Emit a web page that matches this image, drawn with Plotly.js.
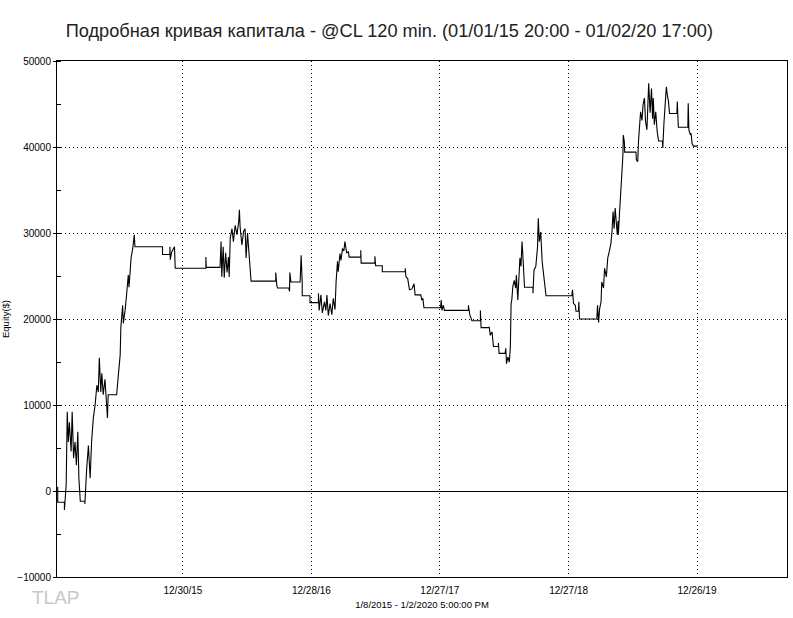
<!DOCTYPE html>
<html>
<head>
<meta charset="utf-8">
<script src="https://cdn.plot.ly/plotly-3.0.1.min.js"></script>
<style>html,body{margin:0;padding:0;background:#fff;}#chart{width:793px;height:618px;}</style>
</head>
<body>
<div id="chart"></div>
<script>
// Start of the equity record (days below are counted from this date)
const startDate = "2015-01-07";

// Days since start
const daysFromStart = [
  2,2,21,21,26,29,32,35,40,43,47,51,55,59,62,66,79,79,84,89,94,98,103,108,113,117,120,124,127,131,136,141,143,145,
  169,174,179,181,186,188,193,198,202,204,210,215,219,221,299,299,320,320,321,325,333,335,422,422,423,462,
  465,467,471,474,478,482,486,488,491,496,500,505,510,515,517,519,524,529,533,536,540,543,547,550,
  620,620,623,625,657,659,660,663,689,692,695,695,717,717,741,741,743,748,752,758,762,765,769,774,779,783,788,
  791,795,797,802,805,809,813,816,821,826,828,861,861,862,901,901,903,
  922,922,987,987,989,994,996,999,1006,1012,1015,1031,1034,1037,1040,1087,1089,1091,1095,1098,
  1166,1166,1170,1176,1200,1200,1202,1225,1225,1228,1233,1237,1251,1251,1253,1270,1272,1274,1278,1282,1285,
  1287,1289,1292,1296,1300,1302,1306,1309,1312,1315,1318,1321,1323,1325,1349,1349,1352,1357,1362,
  1364,1367,1371,1375,1379,1384,1386,1459,1461,1464,1469,1471,1478,1479,1481,1530,1532,1535,1538,1542,
  1544,1549,1552,1557,1561,1565,1570,1573,1576,1579,1582,1585,1588,1590,1591,1594,1597,1600,1602,1604,
  1605,1608,1609,1641,1642,1646,1648,1651,1654,1658,1661,1665,1668,1672,1675,1677,1681,1685,1688,1690,
  1693,1697,1701,1705,1716,1717,1720,1723,1727,1730,1733,1736,1757,1758,1760,1761,1788,1789,1791,1795,
  1797,1800,1804,1815
];

// Equity in $
const equity = [
  500,-1300,-1300,-2200,700,9200,5700,8000,4600,9200,3800,5700,3000,6900,1500,-1200,-1200,-1500,2500,5300,1500,5700,8500,10000,12300,11500,15500,11500,13700,11200,13000,9700,8500,11200,
  11200,13500,15800,19000,21600,19500,21000,23200,25100,23700,27100,28300,29800,28400,28400,27500,27500,28400,26900,27800,28400,25900,25900,27200,26000,26000,
  29000,24900,28400,24800,27700,25400,27200,24900,29400,30500,29000,30900,29800,31300,32700,30700,28600,30200,30500,27100,30000,28300,25500,24400,
  24400,25400,23900,23600,23600,23200,25400,24300,24300,27400,24200,22700,22700,21900,21900,23000,21000,22800,20700,22000,21000,22800,20400,21800,20500,22400,21100,
  24300,26700,25500,27600,26800,28200,27900,29000,27700,27800,27200,27200,28000,26500,26500,27300,26200,
  26200,25500,25500,25900,24900,24700,24300,23400,23500,24100,22800,22800,22200,22400,21300,21300,22200,21000,21600,21000,
  21000,21600,20500,19800,19800,21000,19000,19000,19100,18100,18500,16800,16800,17200,16000,16000,16600,14800,15600,15000,16800,
  21800,22200,23800,24500,23600,25100,22200,25300,27100,26100,29000,26900,24000,23700,23700,23000,25700,26100,28400,
  31700,29000,30100,26700,25100,23600,22700,22700,23400,21800,21600,20900,20900,22000,20000,20000,21600,19600,21200,22000,
  24300,23600,25900,24900,27100,27800,28800,30200,32500,30500,32900,31300,29800,31400,29800,32100,34000,36000,36700,39100,
  41400,40600,39400,39400,38500,38300,40600,42200,44100,43100,44900,45700,43000,42000,45700,47400,44000,46800,43300,45700,
  42600,44100,41800,40700,40700,39900,42600,44900,47000,46000,45300,43900,43900,45300,43300,42300,42300,45100,42000,41400,
  41600,40400,40100,40100
];

// Axis labels
const xTickDates = ["2015-12-30","2016-12-28","2017-12-27","2018-12-27","2019-12-26"];
const xTickLabels = ["12/30/15","12/28/16","12/27/17","12/27/18","12/26/19"];
const xRange = ["2015-01-07","2020-09-06"];
const yRange = [-10000, 50000];

const t0 = Date.UTC(2015,0,7);
const dates = daysFromStart.map(d => new Date(t0 + d*86400000).toISOString().slice(0,10));

const trace = {
  x: dates, y: equity, type: 'scatter', mode: 'lines',
  line: {color: '#000', width: 1.1}, hoverinfo: 'skip'
};

const tickFont = {family: 'Liberation Sans, Arial, sans-serif', size: 10, color: '#000'};

const layout = {
  width: 793, height: 618,
  margin: {l: 57, r: 6, t: 61, b: 41},
  paper_bgcolor: '#fff', plot_bgcolor: '#fff',
  showlegend: false,
  title: {
    text: 'Подробная кривая капитала - @CL 120 min. (01/01/15 20:00 - 01/02/20 17:00)',
    font: {family: 'Liberation Sans, Arial, sans-serif', size: 18.2, color: '#222'},
    x: 0.491, xref: 'container', xanchor: 'center',
    y: 0.951, yref: 'container', yanchor: 'middle'
  },
  xaxis: {
    type: 'date', range: xRange,
    tickmode: 'array', tickvals: xTickDates, ticktext: xTickLabels,
    ticks: '', ticklabelstandoff: 4, tickfont: tickFont,
    showgrid: true, gridcolor: '#000', gridwidth: 1, griddash: '1px,3px',
    showline: true, linecolor: '#000', linewidth: 1, mirror: true,
    zeroline: false,
    title: {text: '1/8/2015 - 1/2/2020 5:00:00 PM', font: {family: 'Liberation Sans, Arial, sans-serif', size: 9.5, color: '#000'}, standoff: 6}
  },
  yaxis: {
    range: yRange, dtick: 10000, tick0: 0, tickformat: 'd',
    ticks: 'outside', ticklen: 3, tickcolor: '#000', tickfont: tickFont,
    minor: {dtick: 5000, ticks: 'inside', ticklen: 4, tickcolor: '#000', showgrid: false},
    showgrid: true, gridcolor: '#000', gridwidth: 1, griddash: '1px,3px',
    showline: true, linecolor: '#000', linewidth: 1, mirror: true,
    zeroline: true, zerolinecolor: '#000', zerolinewidth: 1,
    title: {text: 'Equity($)', font: {family: 'Liberation Sans, Arial, sans-serif', size: 9.5, color: '#000'}, standoff: 12}
  },
  annotations: [{
    text: 'TLAP', xref: 'paper', yref: 'paper', x: -0.001, y: -0.04,
    xanchor: 'center', yanchor: 'middle', showarrow: false,
    font: {family: 'Liberation Sans, Arial, sans-serif', size: 19, color: '#c8c8c8'}
  }]
};

Plotly.newPlot('chart', [trace], layout, {displayModeBar: false, staticPlot: true});
</script>
</body>
</html>
